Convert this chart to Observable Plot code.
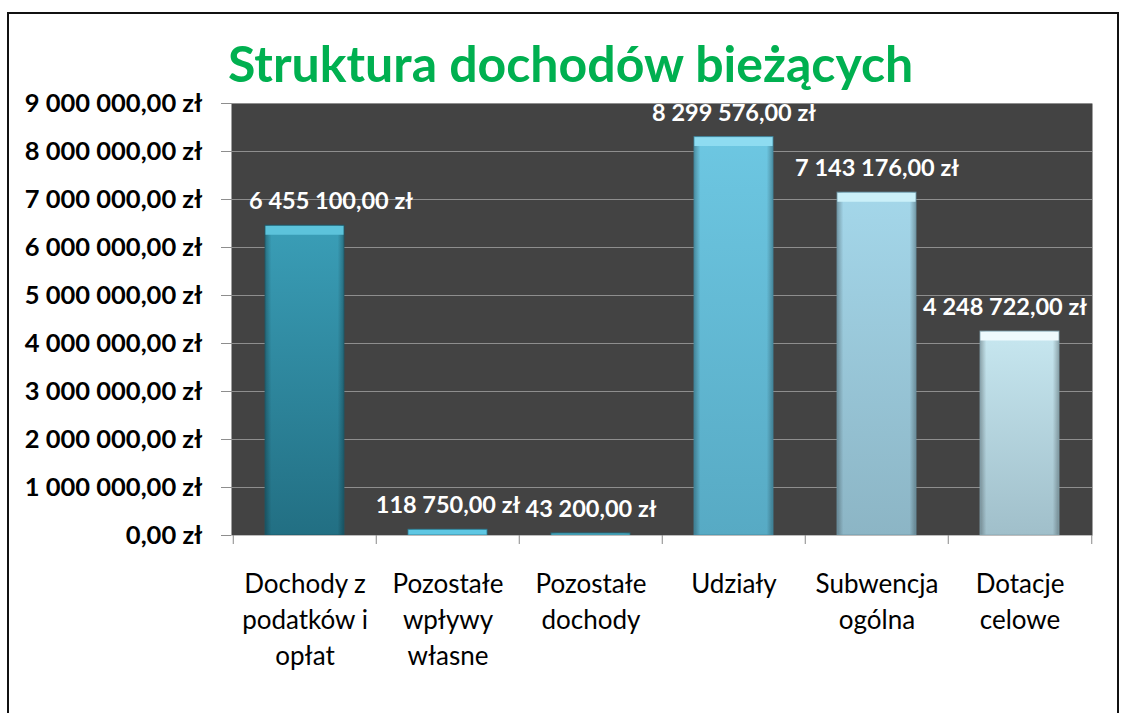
<!DOCTYPE html>
<html>
<head>
<meta charset="utf-8">
<script src="https://cdn.jsdelivr.net/npm/d3@7"></script>
<script src="https://cdn.jsdelivr.net/npm/@observablehq/plot@0.6"></script>
<style>
  html, body { margin: 0; padding: 0; background: #fff; }
  #wrap { position: relative; width: 1125px; height: 713px; overflow: hidden; background: #fff; font-family: Lato, "Open Sans", sans-serif; }
  #border { position: absolute; left: 7px; top: 12px; width: 1108px; height: 760px; border: 2px solid #111; }
  #title { position: absolute; left: 228px; top: 38px; font-size: 50px; line-height: 1; font-weight: bold; color: #00b050; white-space: nowrap; }
  #chart { position: absolute; left: 0; top: 0; }
</style>
</head>
<body>
<div id="wrap">
  <div id="border"></div>
  <div id="title">Struktura dochodów bieżących</div>
  <div id="chart"></div>
</div>
<script>
const categories = [
  "Dochody z\npodatków i\nopłat",
  "Pozostałe\nwpływy\nwłasne",
  "Pozostałe\ndochody",
  "Udziały",
  "Subwencja\nogólna",
  "Dotacje\ncelowe"
];
const values = [6455100, 118750, 43200, 8299576, 7143176, 4248722];
const yTicks = [0, 1000000, 2000000, 3000000, 4000000, 5000000, 6000000, 7000000, 8000000, 9000000];

// styles
const barTop = ["#3a9eb7", "#4dbbd8", "#3ba2bb", "#6dc7e2", "#a4d7ea", "#c7e7f0"];
const barBottom = ["#226f83", "#3aa5c2", "#2f8ca4", "#57aac4", "#8cb5c5", "#a0bfca"];
const bevel = ["#5cc3db", "#5fc7e3", "#5bc0d8", "#8edcf1", "#cbf0f9", "#eefafd"];
const edge = ["#1b5868", "#2a7d93", "#23697b", "#3f8aa3", "#6c97a6", "#86a5b0"];

const locale = d3.formatLocale({decimal: ",", thousands: " ", grouping: [3], currency: ["", ""]});
const num = locale.format(",.2f");
const zl = v => num(v) + " zł";

const data = categories.map((c, i) => ({
  i, category: c, value: values[i],
  fill: `url(#vg${i})`, bevel: bevel[i], edge: edge[i]
}));

const W = 1125, H = 713, ML = 231, MR = 33, MT = 103, MB = 178;
const step = (W - ML - MR) / categories.length;

const chart = Plot.plot({
  width: W,
  height: H,
  marginLeft: ML,
  marginRight: MR,
  marginTop: MT,
  marginBottom: MB,
  style: {fontFamily: "Lato, 'Open Sans', sans-serif", background: "transparent", overflow: "visible"},
  x: {domain: categories, paddingInner: 0.45, paddingOuter: 0.225, label: null},
  y: {domain: [0, 9000000], label: null},
  color: {type: "identity"},
  marks: [
    Plot.frame({fill: "#434343", stroke: "none"}),
    Plot.gridY(yTicks, {stroke: "#8e8e8e", strokeOpacity: 1}),
    Plot.axisY({ticks: yTicks, tickSize: 10, tickPadding: 19, stroke: "#8e8e8e", fill: "#000",
      fontSize: 25.5, fontWeight: "bold", tickFormat: zl, label: null}),
    Plot.ruleY([0], {stroke: "#bdbdbd"}),
    Plot.barY(data, {x: "category", y: "value", fill: "fill", clip: "frame"}),
    Plot.barY(data, {x: "category", y: "value", fill: "url(#edgeGrad)", clip: "frame"}),
    Plot.tickY(data, {x: "category", y: "value", stroke: "bevel", strokeWidth: 9, dy: 4.5, clip: "frame"}),
    Plot.barY(data, {x: "category", y: "value", fill: "none", stroke: "edge", strokeWidth: 1, strokeOpacity: 0.8, clip: "frame"}),
    Plot.text(data.filter(d => d.i === 0), {x: "category", y: "value", text: d => zl(d.value), dy: -24, dx: 26,
      fill: "white", fontWeight: "bold", fontSize: 23.5}),
    Plot.text(data.filter(d => d.i > 0 && d.i < 5), {x: "category", y: "value", text: d => zl(d.value), dy: -24,
      fill: "white", fontWeight: "bold", fontSize: 23.5}),
    Plot.text(data.filter(d => d.i === 5), {x: "category", y: "value", text: d => zl(d.value), dy: -24, dx: -15,
      fill: "white", fontWeight: "bold", fontSize: 23.5}),
    Plot.axisX({tickSize: 9, stroke: "#888", tickFormat: () => "", dx: -step / 2, label: null}),
    Plot.axisX({ticks: [categories[categories.length - 1]], tickSize: 9, stroke: "#888", tickFormat: () => "", dx: step / 2, label: null}),
    Plot.axisX({tickSize: 0, tickPadding: 32, fill: "#000", fontSize: 26, lineHeight: 1.38, label: null})
  ]
});

const defs = d3.select(chart).insert("defs", ":first-child");
barTop.forEach((c, i) => {
  const g = defs.append("linearGradient").attr("id", `vg${i}`).attr("x1", 0).attr("y1", 0).attr("x2", 0).attr("y2", 1);
  g.append("stop").attr("offset", "0%").attr("stop-color", c);
  g.append("stop").attr("offset", "100%").attr("stop-color", barBottom[i]);
});
const eg = defs.append("linearGradient").attr("id", "edgeGrad").attr("x1", 0).attr("y1", 0).attr("x2", 1).attr("y2", 0);
[[0, 0.28], [0.08, 0], [0.92, 0], [1, 0.28]].forEach(([o, a]) => {
  eg.append("stop").attr("offset", o).attr("stop-color", "#000").attr("stop-opacity", a);
});

document.getElementById("chart").appendChild(chart);
</script>
</body>
</html>
